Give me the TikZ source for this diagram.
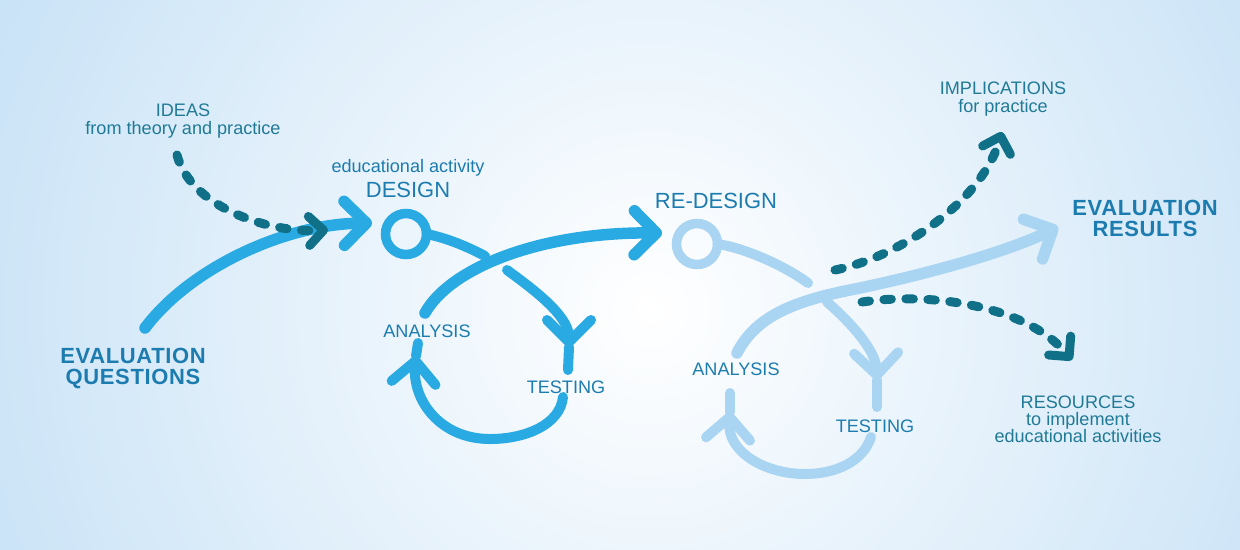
\documentclass[tikz,border=0pt]{standalone}
\usepackage{fontspec}
\setmainfont{Liberation Sans}
\usetikzlibrary{arrows.meta, positioning}

\definecolor{flowblue}{RGB}{42,170,226}
\definecolor{paleblue}{RGB}{170,213,242}
\definecolor{darkteal}{RGB}{16,112,136}
\definecolor{labelblue}{RGB}{28,124,176}
\definecolor{labelteal}{RGB}{32,122,150}
\definecolor{bgblue}{RGB}{198,225,246}

\tikzset{
  bigtip/.style={-{Straight Barb[length=0.44cm,width=0.88cm,round]}},
  smalltip/.style={-{Straight Barb[length=0.29cm,width=0.58cm,round]}},
  strong/.style={line width=0.23cm, line cap=round, flowblue},
  loopline/.style={line width=0.2cm, line cap=round},
  ideadash/.style={line width=0.18cm, line cap=round, darkteal,
    dash pattern=on 0.15cm off 0.29cm},
  ring/.style={circle, draw, line width=0.19cm, minimum size=0.82cm,
    inner sep=0pt, outer sep=0pt},
  small/.style={font=\fontsize{10.3}{9.9}\selectfont, align=center,
    inner sep=0pt, anchor=north},
  stage/.style={font=\fontsize{12.5}{12}\selectfont, text=labelblue,
    inner sep=0pt, anchor=north},
  big/.style={font=\bfseries\fontsize{12.5}{11.6}\selectfont\addfontfeatures{LetterSpace=3},
    align=center, text=labelblue, inner sep=0pt, anchor=north}
}

\begin{document}
\begin{tikzpicture}[x=0.02cm, y=-0.02cm]
\useasboundingbox (0,0) rectangle (1240,549);

% background
\begin{scope}
  \clip (0,0) rectangle (1240,549);
  \shade[inner color=white, outer color=bgblue] (650,310) circle (760);
\end{scope}

% the two stages
\node[ring, draw=flowblue] (design-ring) at (406,234) {};
\node[ring, draw=paleblue] (redesign-ring) at (697,244) {};

% end points of the connectors
\coordinate (q-start)  at (145,328);
\coordinate (q-end)    at (372,223);
\coordinate (idea-start) at (177,155);
\coordinate (idea-end)   at (328,230);
\coordinate (gap1-in)  at (485,256);
\coordinate (gap1-out) at (507,270);
\coordinate (test1-tip)  at (569,347);
\coordinate (test1-stop) at (568,370);
\coordinate (test1-back) at (563,397);
\coordinate (ana1-tip)  at (416,356);
\coordinate (ana1-stop) at (418,343);
\coordinate (c1-start) at (425,313);
\coordinate (c1-end)   at (662,233);
\coordinate (gap2-in)  at (808,283);
\coordinate (gap2-out) at (827,302);
\coordinate (test2-tip)  at (877,380);
\coordinate (test2-stop) at (877,407);
\coordinate (test2-back) at (871,437);
\coordinate (ana2-tip)  at (730,412);
\coordinate (ana2-stop) at (730,393);
\coordinate (c2-start) at (737,353);
\coordinate (c2-end)   at (1058,227);
\coordinate (imp-start) at (835,270);
\coordinate (imp-end)   at (1002,132);
\coordinate (res-start) at (862,302);
\coordinate (res-end)   at (1072,360);

% into the design
\draw[strong, bigtip] (q-start) .. controls (190,268) and (285,224) .. (q-end);
\draw[ideadash, smalltip] (idea-start) .. controls (190,205) and (265,233) .. (idea-end);

% first cycle
\draw[loopline, flowblue] (design-ring.east) .. controls (447,238) and (468,247) .. (gap1-in);
\draw[loopline, flowblue, bigtip] (gap1-out) .. controls (530,287) and (569,315) .. (test1-tip);
\draw[loopline, flowblue] (test1-tip) -- (test1-stop);
\draw[loopline, flowblue, bigtip] (test1-back) .. controls (560,425) and (525,439) .. (490,439)
  .. controls (440,439) and (412,400) .. (ana1-tip);
\draw[loopline, flowblue] (ana1-tip) -- (ana1-stop);
\draw[strong, bigtip] (c1-start) .. controls (450,268) and (540,232) .. (c1-end);

% second cycle
\draw[loopline, paleblue] (redesign-ring.east) .. controls (745,248) and (785,266) .. (gap2-in);
\draw[loopline, paleblue, bigtip] (gap2-out) .. controls (850,322) and (876,350) .. (test2-tip);
\draw[loopline, paleblue] (test2-tip) -- (test2-stop);
\draw[loopline, paleblue, bigtip] (test2-back) .. controls (863,462) and (835,474) .. (805,474)
  .. controls (765,474) and (727,452) .. (ana2-tip);
\draw[loopline, paleblue] (ana2-tip) -- (ana2-stop);
\draw[strong, paleblue, bigtip] (c2-start) .. controls (755,318) and (790,302) .. (850,290)
  .. controls (910,278) and (1000,255) .. (c2-end);

% outcomes
\draw[ideadash, smalltip] (imp-start) .. controls (895,258) and (980,205) .. (imp-end);
\draw[ideadash, smalltip] (res-start) .. controls (930,292) and (1025,305) .. (res-end);

% labels
\node[small, text=labelteal] (ideas) at (183,104) {IDEAS\\from theory and practice};
\node[big] (questions) at (133,348) {EVALUATION\\QUESTIONS};
\node[stage] (design) at (408,182) {DESIGN};
\node[small, text=labelblue, above=0.1cm of design] (edu) {educational activity};
\node[small, text=labelblue] (analysis1) at (427,325) {ANALYSIS};
\node[small, text=labelblue] (testing1) at (566,380) {TESTING};
\node[stage] (redesign) at (716,193) {RE-DESIGN};
\node[small, text=labelblue] (analysis2) at (736,363) {ANALYSIS};
\node[small, text=labelblue] (testing2) at (875,419) {TESTING};
\node[small, text=labelteal] (implications) at (1003,82) {IMPLICATIONS\\for practice};
\node[big] (results) at (1145,200) {EVALUATION\\RESULTS};
\node[small, text=labelteal] (resources) at (1078,395) {RESOURCES\\to implement\\educational activities};
\end{tikzpicture}
\end{document}
